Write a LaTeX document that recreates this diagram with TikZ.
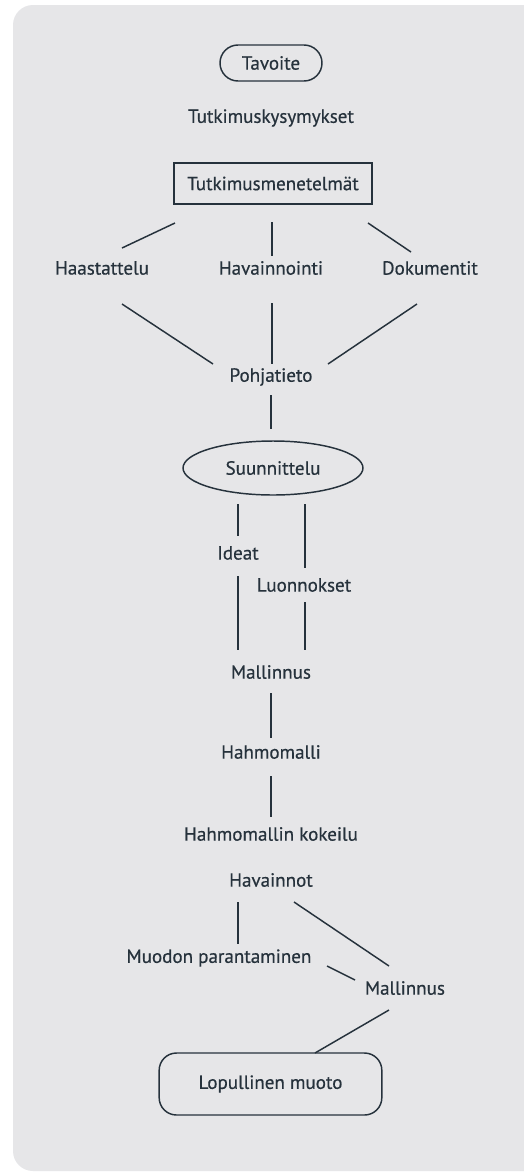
\documentclass[tikz,border=0pt]{standalone}
\usepackage{fontspec}
\setmainfont{PT Sans}
\newfontfamily\lblfont{PT Sans}[FakeBold=0.5]
\usetikzlibrary{shapes.geometric}
\definecolor{panel}{HTML}{E6E6E8}
\definecolor{ink}{HTML}{26323C}
\begin{document}
\begin{tikzpicture}[x=0.75pt,y=-0.75pt,
  lbl/.style={text=ink,font=\lblfont\fontsize{14.3}{16}\selectfont,inner sep=0pt},
  conn/.style={draw=ink,line width=1.1pt},
  box/.style={draw=ink,line width=1.1pt}]
\useasboundingbox (0,0) rectangle (524,1172);
\fill[white] (0,0) rectangle (524,1172);
\fill[panel,rounded corners=15pt] (13,5) rectangle (560,1171);
\fill[panel] (500,5) rectangle (524,1171);
% nodes
\node[lbl,box,rounded corners=13.5pt,minimum width=76.5pt,minimum height=27pt] (tav) at (271,63) {Tavoite};
\node[lbl] (tk) at (271,118) {Tutkimuskysymykset};
\node[lbl,box,minimum width=148.5pt,minimum height=30.75pt] (tm) at (273,183.5) {Tutkimusmenetelmät};
\node[lbl] (hs) at (102,268) {Haastattelu};
\node[lbl] (hv) at (271,268) {Havainnointi};
\node[lbl] (dk) at (430,268) {Dokumentit};
\node[lbl] (pt) at (271,377) {Pohjatieto};
\node[lbl,box,ellipse,minimum width=135pt,minimum height=40.5pt,inner sep=0pt] (su) at (273,468) {Suunnittelu};
\node[lbl] (id) at (238,553) {Ideat};
\node[lbl] (lu) at (304,585) {Luonnokset};
\node[lbl] (ma) at (271,672) {Mallinnus};
\node[lbl] (hm) at (271,752) {Hahmomalli};
\node[lbl] (hk) at (271,834) {Hahmomallin kokeilu};
\node[lbl] (hn) at (271,880) {Havainnot};
\node[lbl] (mp) at (219,958) {Muodon parantaminen};
\node[lbl] (mb) at (405,988) {Mallinnus};
\node[lbl,box,rounded corners=13pt,minimum width=167pt,minimum height=46.5pt] (lm) at (270.5,1084) {Lopullinen muoto};
% connector end points
\coordinate (tmL) at (175,223); \coordinate (hsT) at (122,248);
\coordinate (tmM) at (272,222); \coordinate (hvT) at (272,256);
\coordinate (tmR) at (368,223); \coordinate (dkT) at (411,252);
\coordinate (hsB) at (122,304); \coordinate (ptL) at (213,364);
\coordinate (hvB) at (272,303); \coordinate (ptM) at (272,364);
\coordinate (dkB) at (417,304); \coordinate (ptR) at (328,364);
\coordinate (ptB) at (271,395); \coordinate (suT) at (271,429);
\coordinate (suL) at (238,504); \coordinate (idT) at (238,536);
\coordinate (idB) at (238,576); \coordinate (maL) at (238,650);
\coordinate (suR) at (305,504); \coordinate (luT) at (305,568);
\coordinate (luB) at (305,602); \coordinate (maR) at (305,650);
\coordinate (maB) at (271,693); \coordinate (hmT) at (271,738);
\coordinate (hmB) at (271,776); \coordinate (hkT) at (271,817);
\coordinate (hnL) at (238,902); \coordinate (mpT) at (238,944);
\coordinate (hnR) at (294,902); \coordinate (mbT) at (389,966);
\coordinate (mpR) at (327,966); \coordinate (mbL) at (355,980);
\coordinate (mbB) at (389,1010); \coordinate (lmT) at (315,1053);
% connectors
\draw[conn] (tmL) -- (hsT);
\draw[conn] (tmM) -- (hvT);
\draw[conn] (tmR) -- (dkT);
\draw[conn] (hsB) -- (ptL);
\draw[conn] (hvB) -- (ptM);
\draw[conn] (dkB) -- (ptR);
\draw[conn] (ptB) -- (suT);
\draw[conn] (suL) -- (idT);
\draw[conn] (idB) -- (maL);
\draw[conn] (suR) -- (luT);
\draw[conn] (luB) -- (maR);
\draw[conn] (maB) -- (hmT);
\draw[conn] (hmB) -- (hkT);
\draw[conn] (hnL) -- (mpT);
\draw[conn] (hnR) -- (mbT);
\draw[conn] (mpR) -- (mbL);
\draw[conn] (mbB) -- (lmT);
\end{tikzpicture}
\end{document}
